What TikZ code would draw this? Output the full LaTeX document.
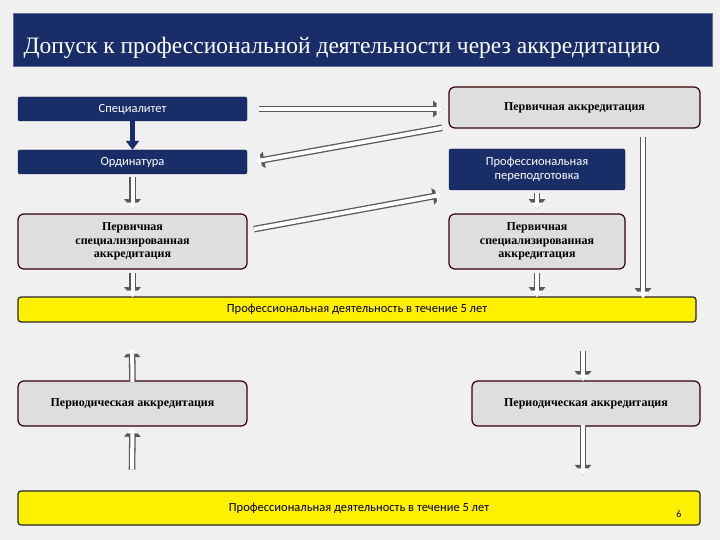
\documentclass[tikz,border=0pt]{standalone}
\usepackage{fontspec}
\setmainfont{Liberation Serif}
\newfontfamily\bodysans{Carlito}
\usetikzlibrary{arrows.meta}
\definecolor{navy}{RGB}{25,45,105}
\definecolor{boxgray}{RGB}{222,222,224}
\definecolor{slideyellow}{RGB}{255,240,0}
\tikzset{
  navybox/.style={draw=navy!60!black,fill=navy,rounded corners=2pt,text=white,font=\bodysans\fontsize{12.5}{14}\selectfont,align=center,inner sep=0pt},
  graybox/.style={draw=black!80!red,line width=1.2pt,fill=boxgray,rounded corners=6pt,font=\bfseries\fontsize{12}{13.5}\selectfont,align=center,inner sep=0pt},
  yellowbox/.style={draw=black!85,line width=1.2pt,fill=slideyellow,rounded corners=3pt,font=\bodysans\fontsize{12.5}{14}\selectfont,inner sep=0pt},
  fat/.style={preaction={draw=black!65,line width=6.6pt,-{Triangle[length=10pt,width=16pt]}},
    draw=white,line width=4pt,shorten >=2.2pt,shorten <=1.3pt,-{Triangle[length=6.5pt,width=11pt]}}
}
\begin{document}
\begin{tikzpicture}[x=1pt,y=-1pt]
\useasboundingbox (0,0) rectangle (720,540);
\fill[black!6] (0,0) rectangle (720,540);
% title
\node[fill=navy,draw=navy!70,minimum width=699pt,minimum height=53pt,anchor=north west,inner sep=0pt] (title) at (13,13) {};
\node[text=white,font=\fontsize{23.5}{26}\selectfont,anchor=west] (titletext) at (20,48) {Допуск к профессиональной деятельности через аккредитацию};
% left column
\node[navybox,minimum width=229pt,minimum height=24pt] (spec) at (132.5,109) {Специалитет};
\node[navybox,minimum width=229pt,minimum height=24pt] (ord) at (132.5,162) {Ординатура};
\node[graybox,minimum width=229pt,minimum height=55pt] (psaL) at (132.5,241.5) {Первичная\\специализированная\\аккредитация};
% right column
\node[graybox,minimum width=251pt,minimum height=41pt] (pa) at (574.5,107.5) {Первичная аккредитация};
\node[navybox,minimum width=176pt,minimum height=41pt] (pp) at (537,169.5) {Профессиональная\\переподготовка};
\node[graybox,minimum width=176pt,minimum height=55pt] (psaR) at (537,241.5) {Первичная\\специализированная\\аккредитация};
% activity bars
\node[yellowbox,minimum width=678pt,minimum height=25pt] (work1) at (357,309.5) {Профессиональная деятельность в течение 5 лет};
\node[graybox,minimum width=229pt,minimum height=45pt] (perL) at (132.5,403.5) {Периодическая аккредитация};
\node[graybox,minimum width=228pt,minimum height=45pt] (perR) at (586,403.5) {Периодическая аккредитация};
\node[yellowbox,minimum width=682pt,minimum height=34pt] (work2) at (359,508) {Профессиональная деятельность в течение 5 лет};
\node[font=\bodysans\fontsize{10}{12}\selectfont] (num) at (679,514) {6};
% free ends
\coordinate (upA) at (132,345);
\coordinate (upB) at (132,471);
\coordinate (dnA) at (583,350);
\coordinate (dnB) at (583,477);
\coordinate (longA) at (643,136);
% connectors
\draw[fat] ([xshift=10pt]spec.east) -- ([xshift=-3pt]pa.west |- spec.east);
\draw[navy,line width=5pt,-{Triangle[length=9pt,width=13pt]}] (spec.south) -- (ord.north);
\draw[fat] ([xshift=-5pt,yshift=1pt]pa.south west) -- ([xshift=5pt]ord.east);
\draw[fat] ([xshift=5pt,yshift=-16pt]psaL.north east) -- ([xshift=-4pt,yshift=-4pt]pp.south west);
\draw[fat] ([yshift=-2pt]ord.south) -- ([yshift=2pt]psaL.north);
\draw[fat] ([yshift=-2pt]pp.south) -- ([yshift=2pt]psaR.north);
\draw[fat] (longA) -- ([yshift=-4pt]longA |- work1.north);
\draw[fat] ([yshift=-2pt]psaL.south) -- ([yshift=-3pt]psaL.south |- work1.north);
\draw[fat] ([yshift=-2pt]psaR.south) -- ([yshift=-3pt]psaR.south |- work1.north);
\draw[fat] ([yshift=-3pt]perL.north) -- (upA);
\draw[fat] (upB) -- ([yshift=2pt]perL.south);
\draw[fat] (dnA) -- ([yshift=-3pt]dnA |- perR.north);
\draw[fat] ([yshift=3pt]dnB |- perR.south) -- (dnB);
\end{tikzpicture}
\end{document}
